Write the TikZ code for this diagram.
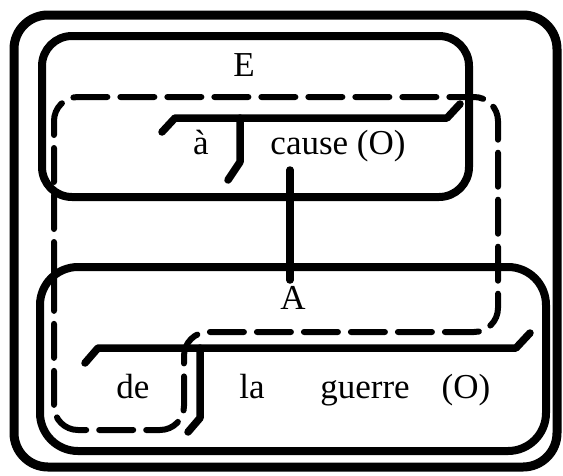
\documentclass[tikz,border=0pt]{standalone}
\usepackage{fontspec}
\setmainfont{Liberation Serif}
\begin{document}
\begin{tikzpicture}[x=1pt,y=-1pt,
		frame/.style={line width=9pt,rounded corners=34pt},
		box/.style={line width=8pt,rounded corners=30pt},
		stem/.style={line width=7.5pt,line cap=round,line join=round},
		dashline/.style={line width=6pt,line cap=round,dash pattern=on 34pt off 13pt,rounded corners=24pt},
		word/.style={anchor=base,inner sep=0pt,font=\fontsize{35}{40}\selectfont}]
		\useasboundingbox (0,0) rectangle (563,475);
		% frames
		\draw[frame] (14,15) rectangle (557,467);
		\draw[box] (42,36) rectangle (469,197);
		\draw[box,rounded corners=38pt] (40,267) rectangle (546,451);
		\draw[dashline] (54,300) -- (54,97) -- (498,97) -- (498,332) -- (184,332) -- (184,430) -- (54,430) -- cycle;
		% upper stemma
		\coordinate (E1) at (162,132);
		\coordinate (E2) at (175,118);
		\coordinate (E3) at (447,118);
		\coordinate (E4) at (460,104);
		\coordinate (E5) at (240,118);
		\coordinate (E6) at (240,162);
		\coordinate (E7) at (228,180);
		% lower stemma
		\coordinate (A1) at (85,363);
		\coordinate (A2) at (98,348);
		\coordinate (A3) at (516,348);
		\coordinate (A4) at (530,333);
		\coordinate (A5) at (200,348);
		\coordinate (A6) at (200,418);
		\coordinate (A7) at (188,432);
		% link
		\coordinate (C1) at (290,170);
		\coordinate (C2) at (290,280);
		\draw[stem] (E1)--(E2)--(E3)--(E4);
		\draw[stem] (E5)--(E6)--(E7);
		\draw[stem] (A1)--(A2)--(A3)--(A4);
		\draw[stem] (A5)--(A6)--(A7);
		\draw[stem] (C1)--(C2);
		\node[word] (E) at (244,76) {E};
		\node[word] (a1) at (201,154) {à};
		\node[word] (cause) at (338,154) {cause (O)};
		\node[word] (A) at (293,309) {A};
		\node[word] (de) at (133,398) {de};
		\node[word] (la) at (252,398) {la};
		\node[word] (guerre) at (365,398) {guerre};
		\node[word] (O2) at (466,398) {(O)};
	\end{tikzpicture}
\end{document}
